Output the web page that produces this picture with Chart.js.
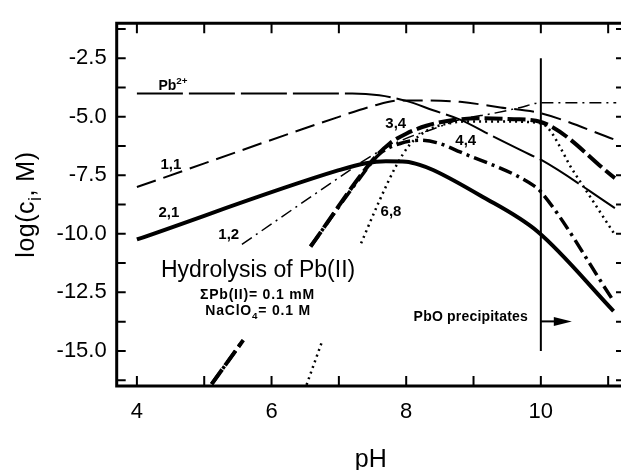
<!DOCTYPE html>
<html>
<head>
<title>Hydrolysis of Pb(II)</title>
<script src="https://cdn.jsdelivr.net/npm/chart.js@4.4.0/dist/chart.umd.min.js"></script>
<style>
  body { margin: 0; overflow: hidden; background: #fff; }
  #wrap { width: 621px; height: 470px; overflow: hidden; }
</style>
</head>
<body>
<div id="wrap"><canvas id="grafico" width="625" height="470"></canvas></div>
<script>
// eixos
var phTicks = [4, 5, 6, 7, 8, 9, 10, 11];
var phLabels = [4, 6, 8, 10];
var logTicks = [-16.25, -15, -13.75, -12.5, -11.25, -10, -8.75, -7.5, -6.25, -5, -3.75, -2.5, -1.25];
var logLabels = [-15, -12.5, -10, -7.5, -5, -2.5];

// especies (null = interrupcao da linha)
var pb2_pH   = [4, 7.2, 7.6, 8.0, 8.4, 8.8, 9.3, 9.85, 10, 11.1];
var pb2_logc = [-4, -4, -4.08, -4.32, -4.72, -5.12, -5.85, -6.63, -6.83, -8.9];

var s11_pH   = [4, 7, 7.5, 7.9, 8.3, 8.8, 9.4, 10, 11.12];
var s11_logc = [-8, -5, -4.54, -4.3, -4.3, -4.36, -4.6, -4.85, -6.0];

var s21_pH   = [4, 7, 7.4, 7.7, 8.0, 8.2, 8.4, 9.1, 9.95, 11.08];
var s21_logc = [-10.24, -7.28, -6.98, -6.9, -6.92, -7.05, -7.27, -8.36, -9.9, -13.3];

var s12_pH   = [5.56, 7.0, 7.5, 8.0, 8.4, 8.8, 9.3, 9.7, 10, 11.12];
var s12_logc = [-10.45, -7.6, -6.64, -5.92, -5.52, -5.12, -4.85, -4.6, -4.4, -4.4];

var s34_pH   = [5.11, 5.58, null, 6.58, 7.5, 7.75, 8.0, 8.3, 8.7, 9.1, 9.6, 10, 11.1];
var s34_logc = [-16.42, -14.54, null, -10.54, -6.86, -6.15, -5.72, -5.38, -5.14, -5.06, -5.1, -5.22, -7.62];

var s44_pH   = [5.11, 5.58, null, 6.58, 7.3, 7.6, 7.9, 8.2, 8.45, 8.8, 9.9, 10, 11.08];
var s44_logc = [-16.42, -14.54, null, -10.54, -7.66, -6.6, -6.15, -6.0, -6.1, -6.5, -7.95, -8.2, -12.87];

var s68_pH   = [6.52, 6.75, null, 7.33, 7.6, 7.85, 8.05, 8.3, 8.6, 8.9, 9.5, 10, 10.5, 11.08];
var s68_logc = [-16.45, -14.6, null, -10.4, -8.6, -7.1, -6.2, -5.6, -5.3, -5.2, -5.2, -5.28, -7.4, -9.95];

// precipitacao de PbO
var precip_pH = 10;
var precip_logc = [-2.5, -15];
var arrow_pH = [10, 10.46];
var arrow_logc = -13.74;

var FONTE = "'Liberation Sans', Arial, Helvetica, sans-serif";

function pts(xs, ys) {
    return xs.map(function (x, i) { return { x: x, y: ys[i] }; });
}

function serie(xs, ys, largura, tracos) {
    return {
        data: pts(xs, ys),
        showLine: true,
        borderColor: '#000',
        borderWidth: largura,
        borderDash: tracos,
        pointRadius: 0,
        cubicInterpolationMode: 'monotone',
        fill: false
    };
}

// textos com indice (sub / sup)
var notas = [
    { partes: [['Pb'], ['2+', 'sup']], x: 4.32, y: -3.85, fonte: 'bold 14px', alinha: 'left' },
    { partes: [['1,1']], x: 4.35, y: -7.22, fonte: 'bold 15px', alinha: 'left' },
    { partes: [['2,1']], x: 4.32, y: -9.28, fonte: 'bold 15px', alinha: 'left' },
    { partes: [['1,2']], x: 5.21, y: -10.2, fonte: 'bold 15px', alinha: 'left' },
    { partes: [['3,4']], x: 7.69, y: -5.47, fonte: 'bold 15px', alinha: 'left' },
    { partes: [['4,4']], x: 8.73, y: -6.22, fonte: 'bold 15px', alinha: 'left' },
    { partes: [['6,8']], x: 7.62, y: -9.22, fonte: 'bold 15px', alinha: 'left' },
    { partes: [['Hydrolysis of Pb(II)']], x: 5.8, y: -11.86, fonte: '23px', alinha: 'center', esp: 0 },
    { partes: [['\u03A3Pb(II)= 0.1 mM']], x: 5.79, y: -12.8, fonte: 'bold 14px', alinha: 'center', esp: 0.8 },
    { partes: [['NaClO'], ['4', 'sub'], ['= 0.1 M']], x: 5.8, y: -13.45, fonte: 'bold 14px', alinha: 'center', esp: 0.8 },
    { partes: [['PbO precipitates']], x: 9.81, y: -13.72, fonte: 'bold 14px', alinha: 'right', esp: 0.2 }
];

function tamanho(fonte) {
    return parseFloat(fonte.match(/(\d+(\.\d+)?)px/)[1]);
}

function escreve(ctx, partes, x, y, fonte, alinha, esp) {
    var t = tamanho(fonte);
    var peso = fonte.indexOf('bold') >= 0 ? 'bold ' : '';
    ctx.letterSpacing = (esp || 0) + 'px';
    var larg = 0;
    partes.forEach(function (p) {
        ctx.font = peso + (p[1] ? t * 0.7 : t) + 'px ' + FONTE;
        larg += ctx.measureText(p[0]).width;
    });
    var x0 = alinha === 'center' ? x - larg / 2 : (alinha === 'right' ? x - larg : x);
    ctx.textAlign = 'left';
    ctx.textBaseline = 'alphabetic';
    partes.forEach(function (p) {
        ctx.font = peso + (p[1] ? t * 0.7 : t) + 'px ' + FONTE;
        var dy = p[1] === 'sub' ? t * 0.28 : (p[1] === 'sup' ? -t * 0.42 : 0);
        ctx.fillText(p[0], x0, y + dy);
        x0 += ctx.measureText(p[0]).width;
    });
    ctx.letterSpacing = '0px';
}

var moldura = {
    id: 'moldura',
    afterDatasetsDraw: function (chart) {
        var ctx = chart.ctx;
        var a = chart.chartArea;
        var sx = chart.scales.x, sy = chart.scales.y;
        ctx.save();
        ctx.strokeStyle = '#000';
        ctx.fillStyle = '#000';

        // moldura
        ctx.lineWidth = 3;
        ctx.beginPath();
        ctx.moveTo(a.right, a.top);
        ctx.lineTo(a.left, a.top);
        ctx.lineTo(a.left, a.bottom);
        ctx.lineTo(a.right, a.bottom);
        ctx.lineTo(a.right, a.top);
        ctx.stroke();

        // marcas para dentro
        ctx.lineWidth = 2;
        ctx.beginPath();
        phTicks.forEach(function (v) {
            var px = sx.getPixelForValue(v);
            ctx.moveTo(px, a.top); ctx.lineTo(px, a.top + 10);
            ctx.moveTo(px, a.bottom); ctx.lineTo(px, a.bottom - 10);
        });
        logTicks.forEach(function (v) {
            var py = sy.getPixelForValue(v);
            ctx.moveTo(a.left, py); ctx.lineTo(a.left + 9, py);
            ctx.moveTo(a.right, py); ctx.lineTo(a.right - 9, py);
        });
        ctx.stroke();

        // seta da precipitacao
        var x1 = sx.getPixelForValue(arrow_pH[0]);
        var x2 = sx.getPixelForValue(arrow_pH[1]);
        var ya = sy.getPixelForValue(arrow_logc);
        ctx.lineWidth = 2;
        ctx.beginPath();
        ctx.moveTo(x1, ya); ctx.lineTo(x2 - 14, ya);
        ctx.stroke();
        ctx.beginPath();
        ctx.moveTo(x2, ya);
        ctx.lineTo(x2 - 18, ya - 4.5);
        ctx.lineTo(x2 - 18, ya + 4.5);
        ctx.closePath();
        ctx.fill();

        // textos
        notas.forEach(function (n) {
            escreve(ctx, n.partes, sx.getPixelForValue(n.x), sy.getPixelForValue(n.y), n.fonte, n.alinha, n.esp);
        });

        // titulos dos eixos
        escreve(ctx, [['pH']], (a.left + a.right) / 2, 467, '25px', 'center', 0);
        ctx.translate(34, (a.top + a.bottom) / 2);
        ctx.rotate(-Math.PI / 2);
        escreve(ctx, [['log(c'], ['i', 'sub'], [', M)']], 0, 0, '25px', 'center', 0.5);
        ctx.restore();
    }
};

var ctx = document.getElementById('grafico').getContext('2d');
var grafico = new Chart(ctx, {
    type: 'scatter',
    data: {
        datasets: [
            serie(pb2_pH, pb2_logc, 2, [46, 6]),
            serie(s11_pH, s11_logc, 2, [20, 8]),
            serie(s21_pH, s21_logc, 4, []),
            serie(s12_pH, s12_logc, 1.5, [12, 5, 2, 5]),
            serie(s34_pH, s34_logc, 4, [18, 5]),
            serie(s44_pH, s44_logc, 3.5, [14, 5, 3, 5]),
            serie(s68_pH, s68_logc, 2.5, [2, 4]),
            serie([precip_pH, precip_pH], precip_logc, 2, [])
        ]
    },
    options: {
        responsive: false,
        animation: false,
        devicePixelRatio: 1,
        layout: { padding: { top: 14, left: 0, right: 0, bottom: 0 } },
        plugins: {
            legend: { display: false },
            tooltip: { enabled: false }
        },
        scales: {
            x: {
                type: 'linear',
                min: 3.7,
                max: 11.25,
                afterBuildTicks: function (s) {
                    s.ticks = phLabels.map(function (v) { return { value: v }; });
                },
                afterFit: function (s) { s.height = 84; },
                grid: { display: false, drawTicks: false },
                border: { display: false },
                ticks: {
                    padding: 13,
                    autoSkip: false,
                    maxRotation: 0,
                    color: '#000',
                    font: { family: FONTE, size: 22 },
                    callback: function (v) { return String(v); }
                }
            },
            y: {
                type: 'linear',
                min: -16.5,
                max: -1,
                afterBuildTicks: function (s) {
                    s.ticks = logLabels.map(function (v) { return { value: v }; });
                },
                afterFit: function (s) { s.width = 116.7; },
                grid: { display: false, drawTicks: false },
                border: { display: false },
                ticks: {
                    padding: 10,
                    autoSkip: false,
                    color: '#000',
                    font: { family: FONTE, size: 22 },
                    callback: function (v) { return Number(v).toFixed(1); }
                }
            }
        }
    },
    plugins: [moldura]
});
</script>
</body>
</html>
